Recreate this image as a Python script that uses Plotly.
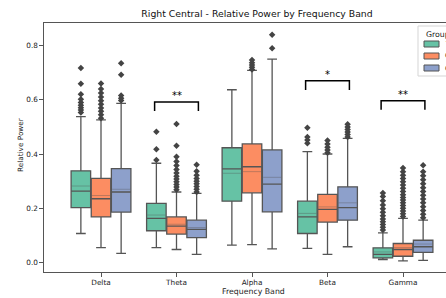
import plotly.graph_objects as go

# ---------------- data ----------------
bands = ["Delta", "Theta", "Alpha", "Beta", "Gamma"]
groups = ["TD", "CP", "CD"]
colors = ["#66c2a5", "#fc8d62", "#8da0cb"]

q1_g0 = [0.202, 0.117, 0.226, 0.107, 0.017]
med_g0 = [0.263, 0.163, 0.345, 0.168, 0.030]
q3_g0 = [0.338, 0.218, 0.423, 0.226, 0.054]
mean_g0 = [0.282, 0.175, 0.329, 0.181, 0.039]
lo_g0 = [0.107, 0.055, 0.064, 0.052, 0.011]
hi_g0 = [0.538, 0.366, 0.637, 0.409, 0.109]

q1_g1 = [0.168, 0.105, 0.257, 0.149, 0.023]
med_g1 = [0.235, 0.134, 0.353, 0.196, 0.048]
q3_g1 = [0.310, 0.168, 0.437, 0.251, 0.070]
mean_g1 = [0.247, 0.141, 0.335, 0.205, 0.055]
lo_g1 = [0.055, 0.048, 0.066, 0.030, 0.006]
hi_g1 = [0.526, 0.260, 0.708, 0.400, 0.163]

q1_g2 = [0.186, 0.092, 0.187, 0.156, 0.037]
med_g2 = [0.260, 0.122, 0.289, 0.202, 0.058]
q3_g2 = [0.346, 0.156, 0.415, 0.279, 0.082]
mean_g2 = [0.270, 0.129, 0.314, 0.220, 0.068]
lo_g2 = [0.034, 0.030, 0.050, 0.058, 0.008]
hi_g2 = [0.587, 0.255, 0.750, 0.458, 0.156]

out_g0 = [
    [0.553, 0.562, 0.571, 0.580, 0.590, 0.602, 0.620, 0.659, 0.717],
    [0.378, 0.418, 0.482],
    [],
    [0.440, 0.452, 0.463, 0.497],
    [0.120, 0.130, 0.140, 0.150, 0.160, 0.172, 0.185, 0.198, 0.212, 0.228, 0.243, 0.256],
]
out_g1 = [
    [0.532, 0.545, 0.558, 0.570, 0.583, 0.596, 0.610, 0.625, 0.640, 0.660],
    [0.268, 0.278, 0.288, 0.298, 0.308, 0.318, 0.330, 0.343, 0.358, 0.372, 0.390, 0.430, 0.511],
    [0.712, 0.720, 0.728, 0.736, 0.747],
    [0.405, 0.415, 0.425, 0.437, 0.450],
    [0.170, 0.180, 0.190, 0.200, 0.210, 0.220, 0.230, 0.240, 0.250, 0.262, 0.274,
     0.286, 0.298, 0.310, 0.322, 0.335, 0.348],
]
out_g2 = [
    [0.597, 0.606, 0.616, 0.692, 0.735],
    [0.260, 0.270, 0.280, 0.290, 0.300, 0.310, 0.322, 0.336, 0.360],
    [0.790, 0.840],
    [0.463, 0.472, 0.481, 0.490, 0.500, 0.510],
    [0.165, 0.178, 0.192, 0.206, 0.220, 0.234, 0.248, 0.262, 0.276, 0.290,
     0.305, 0.320, 0.335, 0.359],
]

# significance annotations: band index, bar height, leg bottom, label
sig_band = [1, 3, 4]
sig_top = [0.592, 0.670, 0.596]
sig_bottom = [0.559, 0.636, 0.563]
sig_label = ["**", "*", "**"]

# ---------------- figure ----------------
stats = [
    (q1_g0, med_g0, q3_g0, mean_g0, lo_g0, hi_g0, out_g0),
    (q1_g1, med_g1, q3_g1, mean_g1, lo_g1, hi_g1, out_g1),
    (q1_g2, med_g2, q3_g2, mean_g2, lo_g2, hi_g2, out_g2),
]
hue_w = 0.8 / 3
box_w = hue_w * 0.97
line_col = "#555555"
font_fam = "DejaVu Sans"

fig = go.Figure()
for g, (q1, med, q3, mn, lo, hi, outs) in enumerate(stats):
    offs = (g - 1) * hue_w
    xs = [i + offs for i in range(len(bands))]
    fig.add_trace(go.Box(
        x=xs, q1=q1, median=med, q3=q3,
        lowerfence=lo, upperfence=hi,
        boxpoints=False,
        width=box_w, whiskerwidth=0.5,
        fillcolor=colors[g], line=dict(color=line_col, width=1.3),
        name=groups[g], showlegend=False, hoverinfo="skip",
    ))
    # mean lines (lighter)
    mx, my = [], []
    for x, m in zip(xs, mn):
        mx += [x - box_w / 2 + 0.01, x + box_w / 2 - 0.01, None]
        my += [m, m, None]
    fig.add_trace(go.Scatter(
        x=mx, y=my, mode="lines", showlegend=False, hoverinfo="skip",
        line=dict(color="rgba(80,80,80,0.35)", width=1),
    ))
    ox, oy = [], []
    for i, vals in enumerate(outs):
        for v in vals:
            ox.append(i + offs)
            oy.append(v)
    fig.add_trace(go.Scatter(
        x=ox, y=oy, mode="markers", showlegend=False, hoverinfo="skip",
        marker=dict(symbol="diamond", size=5, color="#444444",
                    line=dict(width=0)),
    ))

half = 0.29
for b, t, lo, lab in zip(sig_band, sig_top, sig_bottom, sig_label):
    fig.add_trace(go.Scatter(
        x=[b - half, b - half, b + half, b + half],
        y=[lo, t, t, lo], mode="lines", showlegend=False, hoverinfo="skip",
        line=dict(color="black", width=1.5),
    ))
    fig.add_annotation(x=b, y=t, text=lab, showarrow=False,
                       yanchor="bottom", yshift=-1,
                       font=dict(family=font_fam, size=10, color="black"))

L, R, T, B = 44, 0, 23, 26
W, H = 446, 298
pw = W - L - R
ph = H - T - B


def px(xp):
    return (xp - L) / pw


def py(yp):
    return (H - B - yp) / ph


fig.update_layout(
    width=W, height=H,
    margin=dict(l=L, r=R, t=T, b=B, autoexpand=False),
    paper_bgcolor="white", plot_bgcolor="white",
    font=dict(family=font_fam, size=7.3, color="#222222"),
    title=dict(text="Right Central - Relative Power by Frequency Band",
               x=px(257), xref="paper", xanchor="center",
               y=1 - 14 / H, yanchor="middle",
               font=dict(family=font_fam, size=9.3, color="#111111")),
    boxmode="overlay",
    showlegend=False,
)
fig.update_xaxes(
    range=[-0.755, -0.755 + pw / 75.5],
    tickvals=list(range(len(bands))), ticktext=bands,
    showgrid=False, zeroline=False,
    showline=True, linecolor="#555555", linewidth=1.2, mirror=True,
    ticks="outside", ticklen=3.5, tickcolor="#555555",
)
fig.update_yaxes(
    range=[-0.035, 0.883],
    tickvals=[0.0, 0.2, 0.4, 0.6, 0.8], tickformat=".1f",
    showgrid=False, zeroline=False,
    showline=True, linecolor="#555555", linewidth=1.2,
    ticks="outside", ticklen=3.5, tickcolor="#555555",
)
fig.add_annotation(text="Frequency Band", xref="paper", yref="paper",
                   x=px(253), y=py(291),
                   showarrow=False, yanchor="middle", xanchor="center",
                   font=dict(family=font_fam, size=7.8, color="#222222"))
fig.add_annotation(text="Relative Power", xref="paper", yref="paper",
                   x=px(20), y=py(145), textangle=-90,
                   showarrow=False, yanchor="middle", xanchor="center",
                   font=dict(family=font_fam, size=7.3, color="#222222"))

# legend (drawn as a frame with swatches; extends past the right edge)
fig.add_shape(type="rect", xref="paper", yref="paper",
              x0=px(418), x1=px(500), y0=py(76), y1=py(26),
              fillcolor="rgba(255,255,255,0.85)", line=dict(color="#d5d5d5", width=1))
fig.add_annotation(text="Group", xref="paper", yref="paper",
                   x=px(424), y=py(34), xanchor="left", yanchor="middle",
                   showarrow=False, font=dict(family=font_fam, size=7.8, color="#222222"))
leg_rows = [44, 56, 68]
for g in range(len(groups)):
    fig.add_shape(type="rect", xref="paper", yref="paper",
                  x0=px(424), x1=px(439), y0=py(leg_rows[g] + 3), y1=py(leg_rows[g] - 3),
                  fillcolor=colors[g], line=dict(color=line_col, width=1))
    fig.add_annotation(text=groups[g], xref="paper", yref="paper",
                       x=px(443), y=py(leg_rows[g]), xanchor="left", yanchor="middle",
                       showarrow=False, font=dict(family=font_fam, size=7.8, color="#222222"))

fig.write_html("out.html", config={"displayModeBar": False},
               post_script="document.body.style.margin='0';")
